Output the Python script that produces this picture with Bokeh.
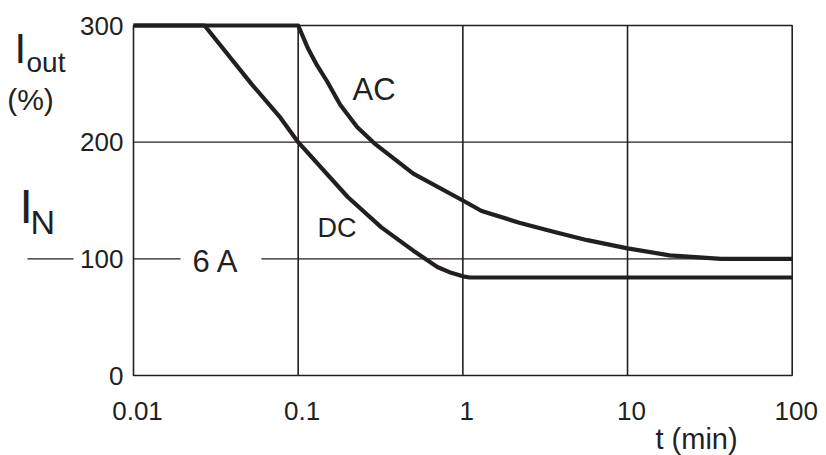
import math
from bokeh.plotting import figure
from bokeh.models import Range1d
from bokeh.core.properties import value
from bokeh.embed import file_html
from bokeh.resources import INLINE

# ---- data ----
ac_t = [0.01, 0.1, 0.115, 0.13, 0.15, 0.18, 0.228, 0.29, 0.5, 1.0, 1.3, 2.2, 3.6, 5.7, 10, 18, 37, 100]
ac_i = [300, 300, 280, 266, 252, 232, 213, 199, 173, 150, 141, 131, 123, 116, 109, 103, 100, 100]

dc_t = [0.01, 0.027, 0.052, 0.078, 0.1, 0.2, 0.32, 0.5, 0.7, 0.85, 1.0, 1.1, 100]
dc_i = [300, 300, 250, 221, 200, 153, 127, 107, 93, 88, 85, 84, 84]

x_ticks = [0.01, 0.1, 1, 10, 100]
x_tick_labels = ["0.01", "0.1", "1", "10", "100"]
y_ticks = [0, 100, 200, 300]
y_tick_labels = ["0", "100", "200", "300"]
x_grid = [0.1, 1, 10]
rated_current = 100  # I_N level in %

INK = "#231f20"
FONT = "Liberation Sans"

W, H = 826, 455
# plot box geometry on the page (pixels)
BOX_L, BOX_R, BOX_T, BOX_B = 133, 791.7, 25, 375
X0, X1 = 0.01, 100
Y0, Y1 = 0, 300
dec_px = (BOX_R - BOX_L) / (math.log10(X1) - math.log10(X0))
y_px = (BOX_B - BOX_T) / (Y1 - Y0)

def X(px):
    return 10 ** (math.log10(X0) + (px - BOX_L) / dec_px)

def Y(px):
    return Y0 + (BOX_B - px) / y_px

p = figure(width=W, height=H, x_axis_type="log",
           x_range=Range1d(X(0), X(W)), y_range=Range1d(Y(H), Y(0)),
           x_axis_location=None, y_axis_location=None,
           output_backend="svg", toolbar_location=None,
           min_border=0, min_border_left=0, min_border_right=0,
           min_border_top=0, min_border_bottom=0)
p.outline_line_color = None
p.background_fill_color = "white"
p.border_fill_color = "white"
p.grid.visible = False

LW = 1.6
# plot box
p.quad(left=[X0], right=[X1], bottom=[Y0], top=[Y1], fill_color=None,
       line_color=INK, line_width=LW)
# vertical grid
p.segment(x0=x_grid, y0=[Y0] * len(x_grid), x1=x_grid, y1=[Y1] * len(x_grid),
          line_color=INK, line_width=LW)
# horizontal grid at 200
p.segment(x0=[X0], y0=[200], x1=[X1], y1=[200], line_color=INK, line_width=1.4)
# I_N line at 100 % (with gaps for "100" and "6 A")
p.segment(x0=[X(27), X0, X(261)], y0=[rated_current] * 3,
          x1=[X(73), X(180), X1], y1=[rated_current] * 3,
          line_color=INK, line_width=1.4)

# curves
p.line(ac_t, ac_i, line_color=INK, line_width=4.2, line_join="round")
p.line(dc_t, dc_i, line_color=INK, line_width=4.2, line_join="round")

# tick labels
p.text(x=[X(123)] * len(y_ticks), y=y_ticks, text=y_tick_labels,
       text_font=value(FONT), text_font_size="26px", text_color=INK,
       text_align="right", text_baseline="middle")
p.text(x=x_ticks, y=[Y(410)] * len(x_ticks), text=x_tick_labels, x_offset=4,
       text_font=value(FONT), text_font_size="26px", text_color=INK,
       text_align="center", text_baseline="middle")

def lab(xpx, ypx, text, size, align="left"):
    p.text(x=[X(xpx)], y=[Y(ypx)], text=[text], text_font=value(FONT),
           text_font_size=size, text_color=INK,
           text_baseline="middle", text_align=align)

lab(14, 48, "I", "42px")
lab(26, 62, "out", "28px")
lab(30, 99, "(%)", "30px", align="center")
lab(19, 206, "I", "48px")
lab(30, 221, "N", "34px")
lab(352, 89, "AC", "31px")
lab(317, 227, "DC", "27px")
lab(192, 261, "6 A", "31px")
lab(655, 438, "t (min)", "29px")

open("out.html", "w").write(file_html(p, INLINE))
